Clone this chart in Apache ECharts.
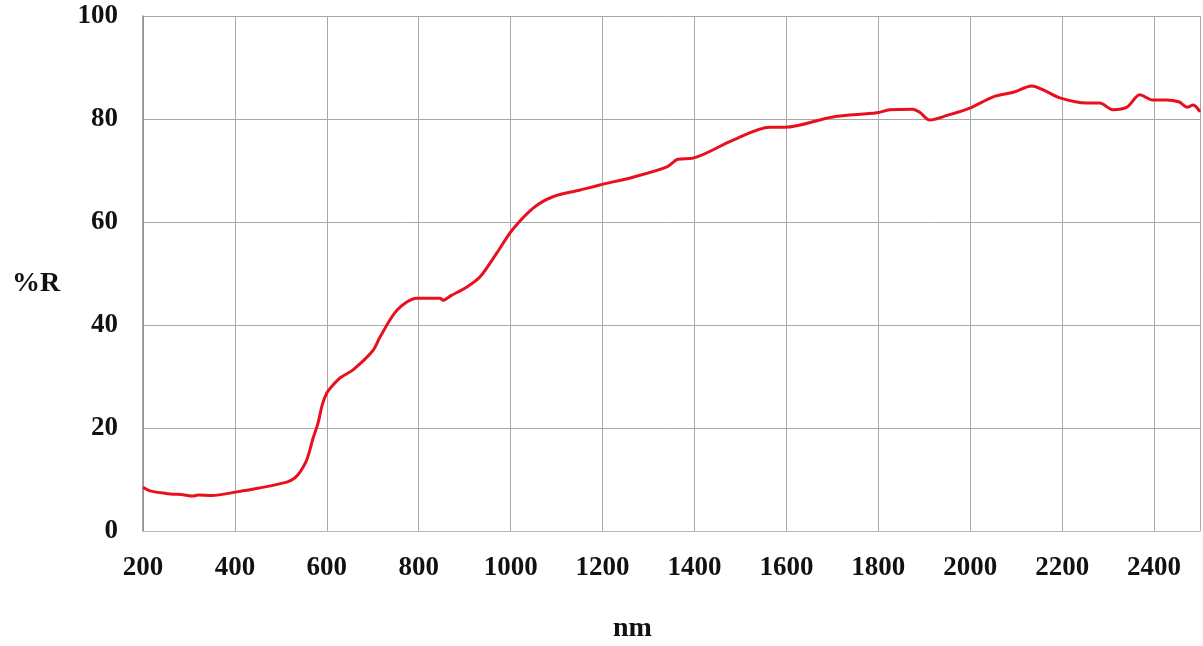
<!DOCTYPE html>
<html>
<head>
<meta charset="utf-8">
<script src="https://cdn.jsdelivr.net/npm/echarts@6/dist/echarts.min.js"></script>
<style>
html,body{margin:0;padding:0;background:#fff;}
#chart{width:1203px;height:646px;}
</style>
</head>
<body>
<div id="chart"></div>
<script>
// Wavelength (nm) and reflectance (%R)
var wavelength = [200, 215, 250, 290, 309, 320, 350, 404, 450, 513, 530, 542, 555, 563, 570, 581, 590, 600, 613, 630, 657, 700, 716, 753, 796, 846, 853, 870, 905, 933, 970, 1003, 1049, 1092, 1151, 1194, 1266, 1340, 1364, 1397, 1484, 1564, 1597, 1701, 1797, 1825, 1875, 1890, 1912, 1950, 1999, 2050, 2094, 2134, 2160, 2195, 2254, 2282, 2310, 2341, 2369, 2397, 2427, 2455, 2472, 2485, 2500];
var reflectance = [8.5, 7.8, 7.3, 7.0, 6.8, 7.0, 6.9, 7.6, 8.3, 9.5, 10.3, 11.5, 13.5, 15.7, 18.0, 21.0, 24.5, 26.8, 28.3, 29.8, 31.3, 35.0, 37.7, 42.9, 45.2, 45.2, 44.8, 45.7, 47.4, 49.3, 54.0, 58.4, 62.7, 64.9, 66.2, 67.2, 68.7, 70.7, 72.2, 72.4, 75.9, 78.4, 78.4, 80.4, 81.2, 81.8, 81.9, 81.3, 79.8, 80.7, 82.1, 84.3, 85.2, 86.4, 85.6, 84.1, 83.1, 83.1, 81.8, 82.3, 84.7, 83.7, 83.7, 83.3, 82.3, 82.7, 81.4];
var xTicks = [200, 400, 600, 800, 1000, 1200, 1400, 1600, 1800, 2000, 2200, 2400];
var yTicks = [0, 20, 40, 60, 80, 100];

var points = wavelength.map(function (w, i) { return [w, reflectance[i]]; });
var fontFam = '"Liberation Serif", "Times New Roman", serif';

var chart = echarts.init(document.getElementById('chart'), null, {renderer: 'canvas'});
chart.setOption({
  animation: false,
  backgroundColor: '#ffffff',
  grid: {left: 143, right: 3, top: 16, bottom: 115, containLabel: false},
  xAxis: {
    type: 'value', min: 200, max: 2500, interval: 200,
    axisLine: {show: true, lineStyle: {color: '#b5b5b5', width: 1}},
    axisTick: {show: false},
    splitLine: {show: true, lineStyle: {color: '#a8a8a8', width: 1}},
    axisLabel: {
      margin: 24, color: '#111', fontFamily: fontFam, fontWeight: 'bold', fontSize: 27,
      formatter: function (v) { return xTicks.indexOf(v) >= 0 ? String(v) : ''; }
    }
  },
  yAxis: {
    type: 'value', min: 0, max: 100, interval: 20,
    axisLine: {show: true, lineStyle: {color: '#8a8a8a', width: 1.5}},
    axisTick: {show: false},
    splitLine: {show: true, lineStyle: {color: '#a8a8a8', width: 1}},
    axisLabel: {
      margin: 25, color: '#111', fontFamily: fontFam, fontWeight: 'bold', fontSize: 27,
      formatter: function (v) { return yTicks.indexOf(v) >= 0 ? String(v) : ''; }
    }
  },
  graphic: [
    {type: 'text', left: 12, top: 270, style: {text: '%R', font: 'bold 28px ' + fontFam, fill: '#111'}},
    {type: 'text', left: 613, top: 615, style: {text: 'nm', font: 'bold 28px ' + fontFam, fill: '#111'}}
  ],
  series: [{
    type: 'line',
    data: points,
    showSymbol: false,
    smooth: 0.3,
    lineStyle: {color: '#e8101e', width: 3}
  }]
});
</script>
</body>
</html>
